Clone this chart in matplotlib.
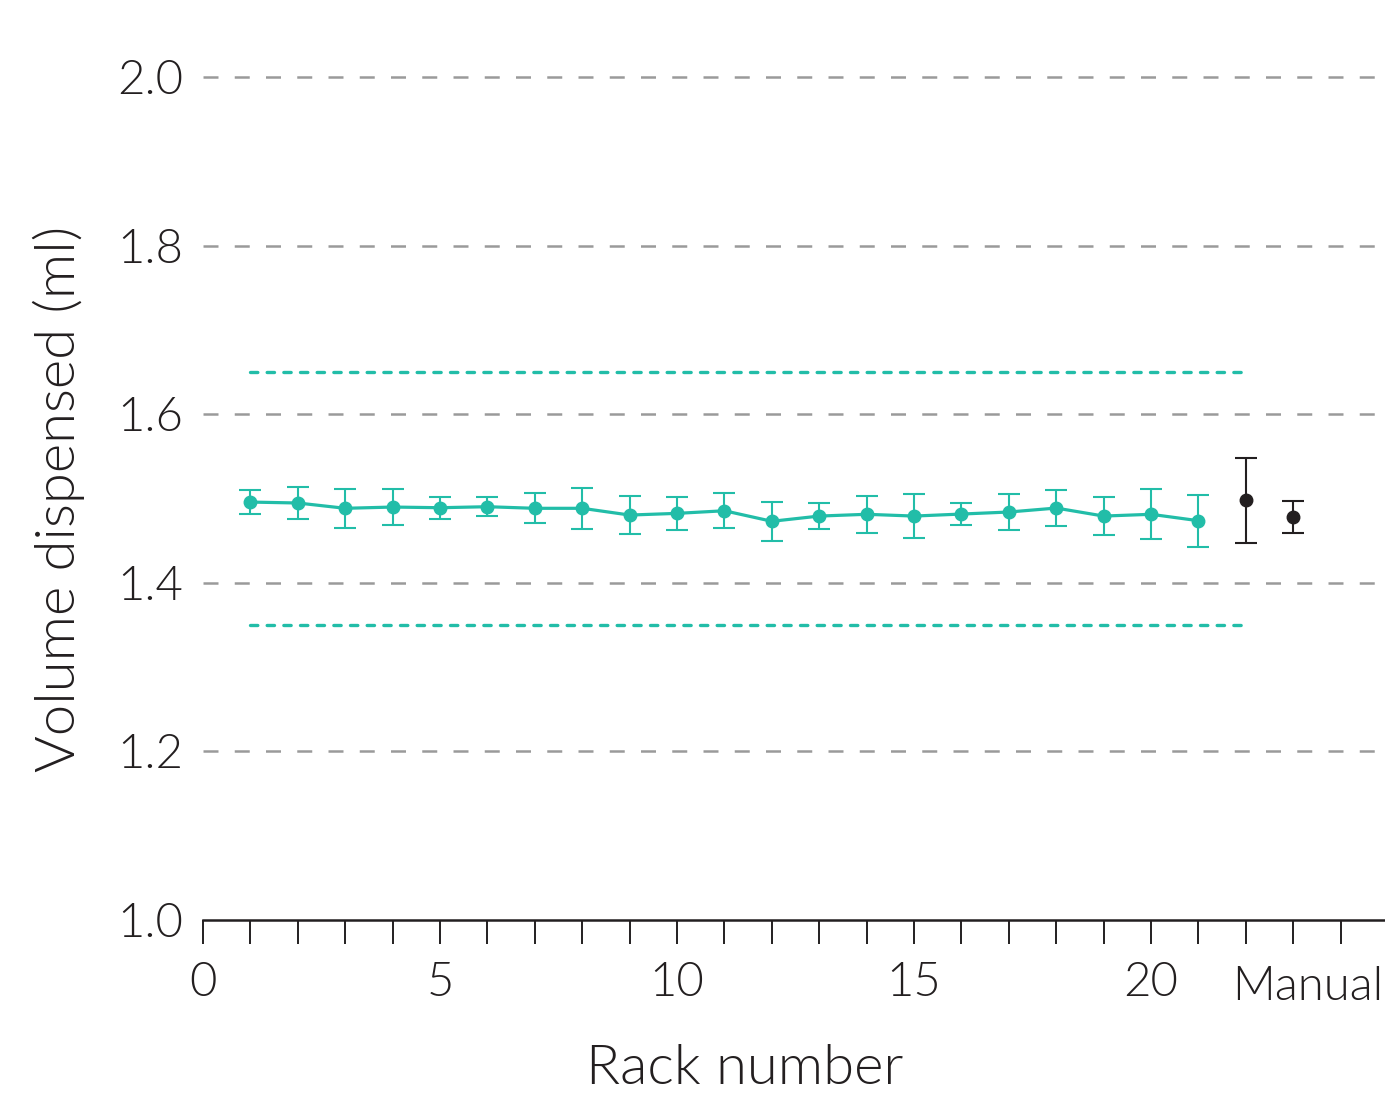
import matplotlib
matplotlib.use("Agg")
import matplotlib.pyplot as plt

plt.rcParams['font.family'] = ['Lato', 'DejaVu Sans']

racks = list(range(1, 22))
rack_means = [1.4958, 1.4947, 1.4884, 1.4899, 1.4891, 1.4903, 1.4884, 1.4884, 1.4804,
              1.4824, 1.4855, 1.4730, 1.4792, 1.4813, 1.4792, 1.4816, 1.4840, 1.4887,
              1.4792, 1.4813, 1.4737]
rack_err = [0.014, 0.019, 0.023, 0.0215, 0.013, 0.011, 0.018, 0.024, 0.023,
            0.020, 0.021, 0.023, 0.015, 0.022, 0.026, 0.013, 0.0217, 0.021,
            0.0224, 0.0297, 0.031]
manual_x = [22, 23]
manual_means = [1.4978, 1.4784]
manual_err = [0.0504, 0.019]
limit_x = [1, 22]
upper_limit = 1.65
lower_limit = 1.35
yticks = [1.0, 1.2, 1.4, 1.6, 1.8, 2.0]
xtick_labels = {0: "0", 5: "5", 10: "10", 15: "15", 20: "20"}

teal = "#22BDA8"
dark = "#231F20"
W = 300

fig = plt.figure(figsize=(13.85, 10.97), dpi=100)
ax = fig.add_axes([0.1466, 0.1613, 0.8556, 0.7685])
ax.set_xlim(0, 25)
ax.set_ylim(1.0, 2.0)

for y in yticks[1:]:
    ax.axhline(y, color="#9a9a9a", lw=1.8, dashes=(6, 6.5), zorder=0, clip_on=False)

ax.plot(limit_x, [upper_limit] * 2, color=teal, lw=2.4, dashes=(2.2, 2.8),
        dash_capstyle='round')
ax.plot(limit_x, [lower_limit] * 2, color=teal, lw=2.4, dashes=(2.2, 2.8),
        dash_capstyle='round')

ax.errorbar(racks, rack_means, yerr=rack_err, color=teal, lw=2.3, marker='o', ms=9,
            elinewidth=1.5, capsize=8, capthick=1.5, zorder=3)
ax.errorbar(manual_x, manual_means, yerr=manual_err, color=dark, lw=0, marker='o', ms=9,
            elinewidth=1.5, capsize=8, capthick=1.5, ls='none', zorder=3)

for s in ['top', 'right', 'left']:
    ax.spines[s].set_visible(False)
ax.spines['bottom'].set_linewidth(1.8)
ax.spines['bottom'].set_color(dark)

ax.set_xticks(range(0, 25))
ax.set_xticklabels([xtick_labels.get(i, "") for i in range(0, 25)])
ax.tick_params(axis='x', length=17, width=1.4, color=dark, pad=13,
               labelsize=34, labelcolor=dark)
ax.set_yticks(yticks)
ax.set_yticklabels([f"{v:.1f}" for v in yticks])
ax.tick_params(axis='y', length=0, pad=14, labelsize=34, labelcolor=dark)
for lab in ax.get_xticklabels() + ax.get_yticklabels():
    lab.set_fontweight(W)

ax.text(21.7, -0.079, "Manual", transform=ax.get_xaxis_transform(), ha='left', va='center',
        fontsize=34, color=dark, fontweight=W, clip_on=False)

ax.set_xlabel("Rack number", fontsize=40.5, color=dark, fontweight=W)
ax.xaxis.set_label_coords(0.457, -0.147)
ax.set_ylabel("Volume dispensed (ml)", fontsize=40.5, color=dark, fontweight=W)
ax.yaxis.set_label_coords(-0.1, 0.5)

fig.savefig("out.png", dpi=100)
